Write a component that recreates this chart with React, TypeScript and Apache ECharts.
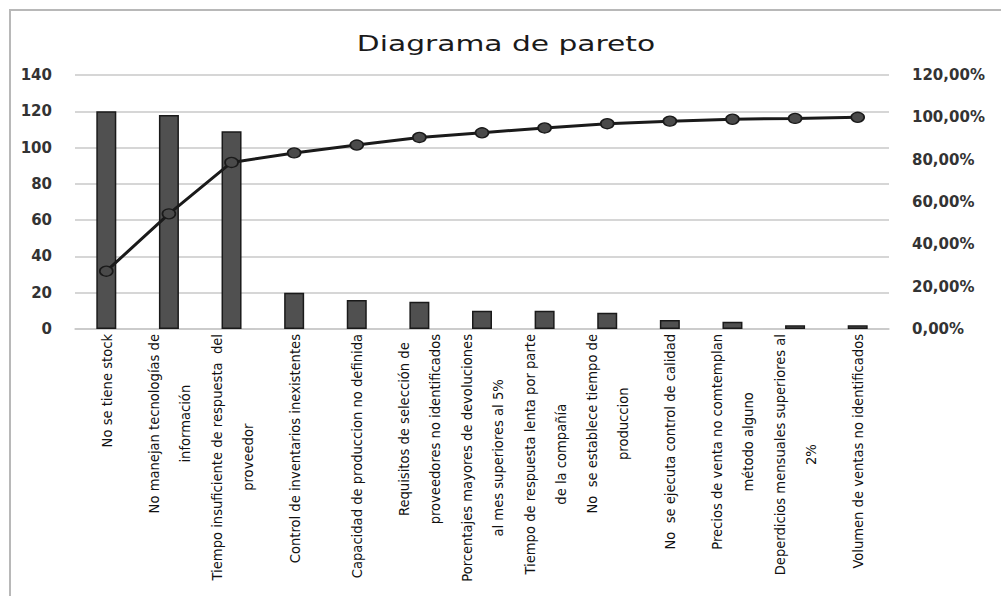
import React, { useEffect, useRef } from "react";
import * as echarts from "echarts";

const categories: string[] = [
  "No se tiene stock",
  "No manejan tecnologías de\ninformación",
  "Tiempo insuficiente de respuesta  del\nproveedor",
  "Control de inventarios inexistentes",
  "Capacidad de produccion no definida",
  "Requisitos de selección de\nproveedores no identificados",
  "Porcentajes mayores de devoluciones\nal mes superiores al 5%",
  "Tiempo de respuesta lenta por parte\nde la compañía",
  "No  se establece tiempo de\nproduccion",
  "No  se ejecuta control de calidad",
  "Precios de venta no comtemplan\nmétodo alguno",
  "Deperdicios mensuales superiores al\n2%",
  "Volumen de ventas no identificados",
];

const frequencies: number[] = [120, 118, 109, 20, 16, 15, 10, 10, 9, 5, 4, 2, 2];
const cumulativePct: number[] = [27.3, 54.4, 78.7, 83.2, 86.9, 90.5, 92.7, 95.0, 97.0, 98.2, 99.1, 99.5, 100];

const leftTicks = { min: 0, max: 140, interval: 20 };
const rightTicks = { min: 0, max: 120, interval: 20 };
const titleText = "Diagrama de pareto";

export default function App() {
  const ref = useRef<HTMLDivElement>(null);

  useEffect(() => {
    document.body.style.margin = "0";
    if (!ref.current) return;
    const chart = echarts.init(ref.current, undefined, { renderer: "svg" });
    const labelFont = "'Liberation Sans Narrow', 'DejaVu Sans Condensed', sans-serif";
    const labelSize = 14.6;
    chart.setOption({
      animation: false,
      backgroundColor: "#ffffff",
      graphic: [
        {
          type: "rect",
          shape: { x: 10, y: 10, width: 1000, height: 600 },
          style: { fill: "none", stroke: "#b8b8b8", lineWidth: 2 },
          silent: true,
        },
        {
          type: "text",
          x: 506,
          y: 43,
          scaleX: 1.35,
          style: {
            text: titleText,
            fontFamily: "'DejaVu Sans', sans-serif",
            fontSize: 22,
            fill: "#1a1a1a",
            textAlign: "center",
            textVerticalAlign: "middle",
          },
        },
      ],
      grid: {
        left: 75,
        right: 112,
        top: 75,
        bottom: 267,
        containLabel: false,
        outerBoundsMode: "none",
      },
      xAxis: {
        type: "category",
        data: categories,
        axisLine: { show: true, lineStyle: { color: "#c8c8c8", width: 1.5 } },
        axisTick: { show: false },
        axisLabel: {
          interval: 0,
          rotate: 90,
          margin: 5,
          color: "#111111",
          fontFamily: labelFont,
          fontSize: labelSize,
          lineHeight: 31,
          formatter: (v: string) =>
            v
              .split("\n")
              .map((l) => `{c|${l}}`)
              .join("\n"),
          rich: {
            c: {
              align: "center",
              fontFamily: labelFont,
              fontSize: labelSize,
              lineHeight: 31,
              color: "#111111",
            },
          },
        },
      },
      yAxis: [
        {
          type: "value",
          min: leftTicks.min,
          max: leftTicks.max,
          interval: leftTicks.interval,
          axisLine: { show: false },
          axisTick: { show: false },
          splitLine: { show: true, lineStyle: { color: "#c8c8c8", width: 1.5 } },
          axisLabel: {
            margin: 23,
            color: "#333333",
            fontFamily: "'DejaVu Sans', sans-serif",
            fontWeight: "bold",
            fontSize: 15,
          },
        },
        {
          type: "value",
          min: rightTicks.min,
          max: rightTicks.max,
          interval: rightTicks.interval,
          axisLine: { show: false },
          axisTick: { show: false },
          splitLine: { show: false },
          axisLabel: {
            margin: 23,
            color: "#333333",
            fontFamily: "'DejaVu Sans', sans-serif",
            fontWeight: "bold",
            fontSize: 15,
            formatter: (v: number) => v.toFixed(2).replace(".", ",") + "%",
          },
        },
      ],
      series: [
        {
          type: "bar",
          data: frequencies,
          barWidth: 20,
          yAxisIndex: 0,
          itemStyle: { color: "#505050", borderColor: "#1a1a1a", borderWidth: 1.5 },
          z: 2,
        },
        {
          type: "line",
          data: cumulativePct,
          yAxisIndex: 1,
          symbol: "circle",
          symbolSize: [13, 10],
          lineStyle: { color: "#1a1a1a", width: 3 },
          itemStyle: { color: "#4a4a4a", borderColor: "#1a1a1a", borderWidth: 1.5 },
          z: 3,
        },
      ],
    });
    return () => chart.dispose();
  }, []);

  return <div ref={ref} style={{ width: 1001, height: 596 }} />;
}
